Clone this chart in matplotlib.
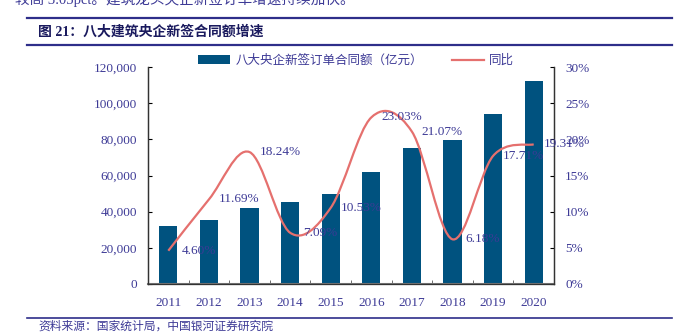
import numpy as np
import matplotlib.pyplot as plt
from matplotlib.path import Path
from matplotlib.patches import PathPatch
from matplotlib.lines import Line2D
from matplotlib.patches import Patch
from matplotlib.ticker import FuncFormatter, FixedLocator

plt.rcParams['font.family'] = ['Liberation Serif', 'Noto Sans CJK SC']

years = ['2011', '2012', '2013', '2014', '2015', '2016', '2017', '2018', '2019', '2020']
amount = [32100, 35600, 42000, 45400, 50000, 62000, 75000, 79700, 93800, 112100]
yoy = [4.60, 11.69, 18.24, 7.09, 10.53, 23.03, 21.07, 6.18, 17.71, 19.31]
yoy_labels = ['4.60%', '11.69%', '18.24%', '7.09%', '10.53%', '23.03%', '21.07%', '6.18%', '17.71%', '19.31%']

bar_color = '#00527f'
line_color = '#e5706e'
text_color = '#3d3a96'
rule_color = '#2e2e8a'

fig = plt.figure(figsize=(6.88, 3.34), dpi=100)
ax = fig.add_axes([148/688, 1-284/334, (554-148)/688, (284-67)/334])
ax2 = ax.twinx()

x = np.arange(len(years))
ax.bar(x, amount, width=0.45, color=bar_color, zorder=2)
ax.set_xlim(-0.5, len(years) - 0.5)
ax.set_ylim(0, 120000)
ax.set_yticks(np.arange(0, 120001, 20000))
ax.yaxis.set_major_formatter(FuncFormatter(lambda v, p: f'{int(v):,}'))
ax.set_xticks(x)
ax.set_xticklabels(years)
ax.xaxis.set_minor_locator(FixedLocator(np.arange(0.5, len(years) - 0.5, 1)))
ax.tick_params(axis='x', which='major', length=0, pad=9, labelsize=9.5, labelcolor=text_color)
ax.tick_params(axis='x', which='minor', direction='in', length=3, color='#555555')
ax.tick_params(axis='y', direction='in', length=3, labelsize=9.5, labelcolor=text_color, pad=8)

# smooth line like excel (bezier through the points)
pts = list(zip(x.astype(float), yoy))
verts = [pts[0]]
codes = [Path.MOVETO]
n = len(pts)
for i in range(n - 1):
    p0 = pts[max(i - 1, 0)]
    p1 = pts[i]
    p2 = pts[i + 1]
    p3 = pts[min(i + 2, n - 1)]
    c1 = (p1[0] + (p2[0] - p0[0]) / 6, p1[1] + (p2[1] - p0[1]) / 6)
    c2 = (p2[0] - (p3[0] - p1[0]) / 6, p2[1] - (p3[1] - p1[1]) / 6)
    verts += [c1, c2, p2]
    codes += [Path.CURVE4] * 3
ax2.add_patch(PathPatch(Path(verts, codes), facecolor='none', edgecolor=line_color, lw=1.6, zorder=3))
ax2.set_ylim(0, 30)
ax2.set_yticks(np.arange(0, 31, 5))
ax2.yaxis.set_major_formatter(FuncFormatter(lambda v, p: f'{int(v)}%'))
ax2.tick_params(axis='y', direction='in', length=3, labelsize=9.5, labelcolor=text_color, pad=8)

for i, (v, lab) in enumerate(zip(yoy, yoy_labels)):
    ax2.annotate(lab, (i, v), xytext=(22, 0), textcoords='offset points',
                 ha='center', va='center', fontsize=9.5, color=text_color, zorder=4)

for a in (ax, ax2):
    a.spines['top'].set_visible(False)
    for s in ('left', 'right', 'bottom'):
        a.spines[s].set_color('#333333')
        a.spines[s].set_linewidth(0.9)
ax.spines['bottom'].set_color('#777777')
ax.spines['bottom'].set_linewidth(1.5)

handles = [Patch(facecolor=bar_color), Line2D([0], [0], color=line_color, lw=1.6)]
leg = fig.legend(handles, ['八大央企新签订单合同额（亿元）', '同比'], loc='center',
                 bbox_to_anchor=(356/688, 1-61/334), ncol=2, frameon=False,
                 fontsize=9, handlelength=2.6, handleheight=0.75, columnspacing=2.3,
                 handletextpad=0.4, labelcolor=text_color)

# header / footer
fig.text(15/688, 1+1/334, '较高 3.03pct。建筑龙头央企新签订单增速持续加快。', fontsize=10.5,
         color=text_color, ha='left', va='center')
fig.add_artist(Line2D([27/688, 672/688], [1-18/334, 1-18/334], color=rule_color, lw=1.6))
fig.add_artist(Line2D([27/688, 672/688], [1-45/334, 1-45/334], color=rule_color, lw=1.6))
fig.add_artist(Line2D([27/688, 672/688], [1-318/334, 1-318/334], color=rule_color, lw=1.2))
fig.text(38/688, 1-32/334, '图 21：八大建筑央企新签合同额增速', fontsize=10, fontweight='bold',
         color='#1a1a5e', ha='left', va='center')
fig.text(38/688, 1-327/334, '资料来源：国家统计局，中国银河证券研究院', fontsize=8.5, style='italic',
         color=text_color, ha='left', va='center')

fig.savefig('out.png', dpi=100)
